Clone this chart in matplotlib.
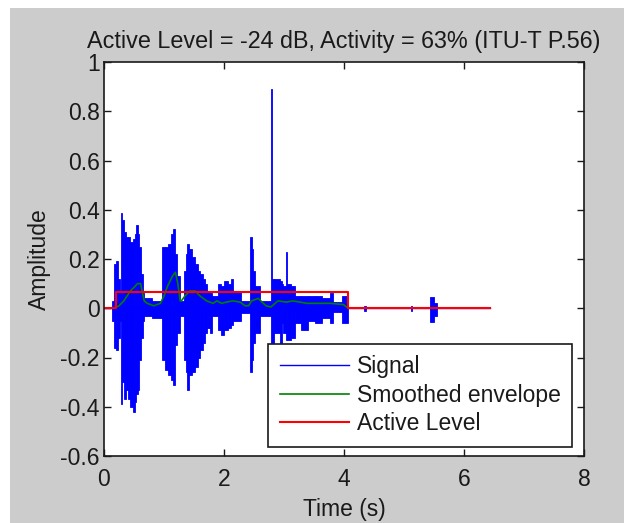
import matplotlib
matplotlib.use('Agg')
import matplotlib.pyplot as plt
import numpy as np
from matplotlib.patches import Rectangle

plt.rcParams['font.family'] = ['Liberation Sans', 'DejaVu Sans']

# signal envelope knots (held until the next knot)
sig_t = [0.00, 0.13, 0.17, 0.20, 0.23, 0.26, 0.285, 0.30, 0.33, 0.36, 0.40, 0.44,
         0.48, 0.51, 0.54, 0.57, 0.59, 0.62, 0.645, 0.66, 0.80, 0.97, 1.02, 1.07,
         1.12, 1.15, 1.19, 1.22, 1.26, 1.33, 1.36, 1.39, 1.42, 1.47, 1.52, 1.56,
         1.60, 1.65, 1.69, 1.72, 1.76, 1.80, 1.90, 1.95, 2.00, 2.06, 2.11, 2.15,
         2.29, 2.43, 2.46, 2.49, 2.52, 2.60, 2.79, 2.805, 2.84, 2.93, 2.96, 2.99,
         3.03, 3.05, 3.12, 3.18, 3.29, 3.40, 3.52, 3.63, 3.76, 3.82, 3.96, 4.07,
         4.34, 4.36, 5.12, 5.14, 5.43, 5.50, 5.55, 6.43]
sig_hi = [0.00, 0.03, 0.18, 0.19, 0.12, 0.06, 0.385, 0.36, 0.31, 0.29, 0.29, 0.27,
          0.28, 0.30, 0.34, 0.30, 0.25, 0.14, 0.06, 0.04, 0.03, 0.25, 0.25, 0.26,
          0.30, 0.32, 0.22, 0.13, 0.03, 0.15, 0.22, 0.26, 0.24, 0.21, 0.18, 0.15,
          0.14, 0.12, 0.10, 0.07, 0.06, 0.05, 0.10, 0.09, 0.11, 0.10, 0.12, 0.07,
          0.03, 0.29, 0.24, 0.15, 0.09, 0.03, 0.89, 0.12, 0.12, 0.11, 0.10, 0.09,
          0.23, 0.10, 0.09, 0.05, 0.05, 0.05, 0.05, 0.04, 0.06, 0.025, 0.05, 0.00,
          0.01, 0.00, 0.01, 0.00, 0.045, 0.02, 0.00, 0.00]
sig_lo = [0.00, -0.05, -0.16, -0.17, -0.12, -0.05, -0.39, -0.30, -0.37, -0.33, -0.37, -0.40,
          -0.42, -0.38, -0.35, -0.33, -0.21, -0.12, -0.05, -0.03, -0.04, -0.21, -0.25, -0.27,
          -0.29, -0.31, -0.15, -0.10, -0.03, -0.21, -0.26, -0.33, -0.27, -0.26, -0.24, -0.20,
          -0.17, -0.14, -0.10, -0.08, -0.10, -0.03, -0.09, -0.11, -0.09, -0.08, -0.07, -0.05,
          -0.02, -0.26, -0.21, -0.14, -0.10, -0.03, -0.14, -0.14, -0.10, -0.14, -0.06, -0.10,
          -0.13, -0.13, -0.12, -0.06, -0.09, -0.05, -0.06, -0.04, -0.06, -0.015, -0.06, 0.00,
          -0.01, 0.00, -0.01, 0.00, -0.055, -0.03, 0.00, 0.00]

# smoothed envelope
env_t = [0.17, 0.25, 0.33, 0.44, 0.56, 0.61, 0.67, 0.72, 0.83, 0.94, 1.00, 1.06,
         1.14, 1.19, 1.23, 1.27, 1.29, 1.35, 1.43, 1.52, 1.60, 1.71, 1.82, 1.88,
         1.96, 2.04, 2.15, 2.27, 2.35, 2.41, 2.46, 2.57, 2.70, 2.78, 2.90, 3.04,
         3.15, 3.38, 3.77, 3.99, 4.07]
env_v = [0.00, 0.01, 0.03, 0.07, 0.10, 0.10, 0.03, 0.02, 0.01, 0.02, 0.05, 0.09,
         0.13, 0.146, 0.10, 0.03, 0.03, 0.05, 0.07, 0.07, 0.05, 0.03, 0.02, 0.03,
         0.02, 0.025, 0.03, 0.025, 0.01, 0.01, 0.03, 0.04, 0.01, 0.005, 0.03, 0.025,
         0.03, 0.02, 0.02, 0.015, 0.00]

# active level (steps)
act_t = [0.0, 0.2, 4.07, 6.43]
act_v = [0.0, 0.066, 0.0, 0.0]

xticks = [0, 2, 4, 6, 8]
yticks = [-0.6, -0.4, -0.2, 0, 0.2, 0.4, 0.6, 0.8, 1]
ylabels = ['-0.6', '-0.4', '-0.2', '0', '0.2', '0.4', '0.6', '0.8', '1']
title = 'Active Level = -24 dB, Activity = 63% (ITU-T P.56)'

FS = 16.5
TXT = '#1a1a1a'

fig = plt.figure(figsize=(6.24, 5.23), dpi=100)
fig.patch.set_facecolor('white')
# grey figure panel inside a thin white margin (screenshot border)
fig.patches.append(Rectangle((10 / 624, 0), 1 - 10 / 624, 1 - 8 / 523,
                             transform=fig.transFigure, facecolor='#cccccc',
                             edgecolor='none', zorder=-10))

ax = fig.add_axes([104 / 624, 67 / 523, 480 / 624, 394 / 523])
ax.set_facecolor('white')

# signal drawn as blocks between its upper and lower envelope
lo = np.array(sig_lo)
hi = np.array(sig_hi)
w = np.diff(sig_t + [sig_t[-1]])
ax.bar(sig_t, hi - lo, bottom=lo, width=w, align='edge', color='blue',
       edgecolor='blue', linewidth=0.6)
h1, = ax.plot([act_t[0], act_t[-1]], [0, 0], color='blue', lw=1.0, label='Signal')
h2, = ax.plot(env_t, env_v, color='#008000', lw=1.2, label='Smoothed envelope')
h3, = ax.plot(act_t, act_v, color='red', lw=1.5, drawstyle='steps-post', label='Active Level')

ax.set_xlim(0, 8)
ax.set_ylim(-0.6, 1)
ax.set_xticks(xticks)
ax.set_yticks(yticks)
ax.set_yticklabels(ylabels)
ax.tick_params(direction='in', length=5, width=1, top=True, right=True,
               labelsize=FS, colors=TXT)
ax.tick_params(axis='x', pad=9)
ax.tick_params(axis='y', pad=3)
for s in ax.spines.values():
    s.set_linewidth(1.2)
    s.set_color(TXT)

ax.set_title(title, fontsize=16.8, color=TXT, pad=10)
ax.set_xlabel('Time (s)', fontsize=FS, color=TXT, labelpad=5)
ax.set_ylabel('Amplitude', fontsize=FS, color=TXT, labelpad=7)

leg = ax.legend(handles=[h1, h2, h3], loc='lower right', bbox_to_anchor=(0.975, 0.023),
                borderaxespad=0, fancybox=False, framealpha=1, edgecolor=TXT,
                fontsize=FS, handlelength=3.0, handletextpad=0.35,
                labelspacing=0.25, borderpad=0.5)
leg.get_frame().set_linewidth(1.2)
for t in leg.get_texts():
    t.set_color(TXT)

fig.savefig('out.png', dpi=100, facecolor=fig.get_facecolor())
